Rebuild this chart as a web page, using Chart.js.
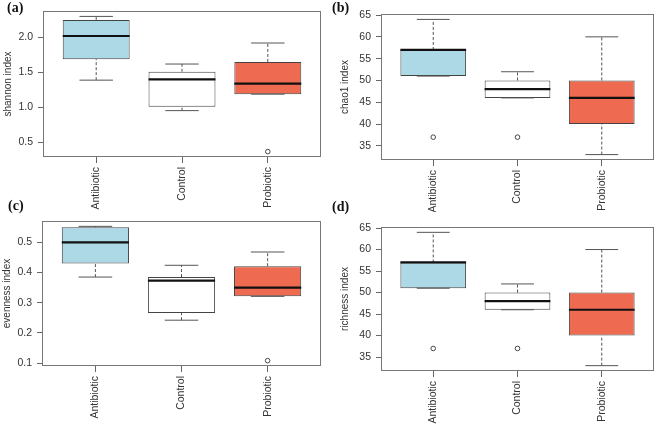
<!DOCTYPE html>
<html><head><meta charset="utf-8">
<script src="https://cdn.jsdelivr.net/npm/chart.js@4"></script>
<style>
html,body{margin:0;padding:0;background:#fff;}
#wrap{position:relative;width:660px;height:424px;overflow:hidden;background:#fff;}
canvas{position:absolute;}
.lbl{position:absolute;font-family:'Liberation Serif','Times New Roman',serif;font-weight:bold;font-size:14px;line-height:16px;color:#111;z-index:5;}
</style></head><body>
<div id="wrap">
<canvas id="ca" width="330" height="212" style="left:0;top:0"></canvas>
<canvas id="cb" width="330" height="212" style="left:330px;top:0"></canvas>
<canvas id="cc" width="330" height="212" style="left:0;top:212px"></canvas>
<canvas id="cd" width="330" height="212" style="left:330px;top:212px"></canvas>
<div class="lbl" style="left:7px;top:0px">(a)</div>
<div class="lbl" style="left:332px;top:0px">(b)</div>
<div class="lbl" style="left:8px;top:198px">(c)</div>
<div class="lbl" style="left:332px;top:199px">(d)</div>
</div>
<script>
// ---- data ----
const categories = ['Antibiotic', 'Control', 'Probiotic'];

// (a) shannon index
const shannonTicks = ['0.5', '1.0', '1.5', '2.0'];
const shannonLow = [1.39, 0.955, 1.19];
const shannonQ1 = [1.69, 1.01, 1.19];
const shannonMedian = [2.02, 1.40, 1.34];
const shannonQ3 = [2.25, 1.51, 1.65];
const shannonHigh = [2.30, 1.62, 1.92];
const shannonOutliers = [[], [], [0.37]];

// (b) chao1 index
const chao1Ticks = ['35', '40', '45', '50', '55', '60', '65'];
const chao1Low = [51, 46, 33];
const chao1Q1 = [51, 46, 40];
const chao1Median = [57, 48, 46];
const chao1Q3 = [57, 50, 50];
const chao1High = [64, 52, 60];
const chao1Outliers = [[37], [37], []];

// (c) evenness index
const evennessTicks = ['0.1', '0.2', '0.3', '0.4', '0.5'];
const evennessLow = [0.385, 0.242, 0.321];
const evennessQ1 = [0.43, 0.266, 0.321];
const evennessMedian = [0.50, 0.373, 0.35];
const evennessQ3 = [0.55, 0.385, 0.421];
const evennessHigh = [0.553, 0.424, 0.468];
const evennessOutliers = [[], [], [0.108]];

// (d) richness index
const richnessTicks = ['35', '40', '45', '50', '55', '60', '65'];
const richnessLow = [51, 46, 33];
const richnessQ1 = [51, 46, 40];
const richnessMedian = [57, 48, 46];
const richnessQ3 = [57, 50, 50];
const richnessHigh = [64, 52, 60];
const richnessOutliers = [[37], [37], []];

// ---- styles ----
const boxFill = ['#ADD8E6', '#FFFFFF', '#EE6A50'];
const BOX_W = 0.78;      // box width in category units
const CAP_W = 0.39;      // staple width
const FONT = "'Liberation Sans', Arial, Helvetica, sans-serif";
const TXT = '#333';

const framePlugin = {
  id: 'frame',
  beforeDatasetsDraw(chart) {
    const { ctx, chartArea: a } = chart;
    ctx.save();
    ctx.strokeStyle = '#777';
    ctx.lineWidth = 1;
    ctx.strokeRect(Math.round(a.left) + 0.5, Math.round(a.top) + 0.5,
      Math.round(a.right - a.left) - 1, Math.round(a.bottom - a.top) - 1);
    ctx.restore();
  }
};

function panel(id, title, tickLabels, low, q1, med, q3, high, outliers, area, titlePad) {
  const W = 330, H = 212;
  const all = [].concat(low, high, ...outliers);
  const lo = Math.min(...all), hi = Math.max(...all);
  const ext = (hi - lo) * 0.04;
  const tickVals = tickLabels.map(Number);
  const n = categories.length;
  const hb = BOX_W / 2, hc = CAP_W / 2;

  const boxData = categories.map((c, i) => ({ x: i + 1, y: [q1[i], q3[i]] }));
  const medData = categories.flatMap((c, i) => [
    { x: i + 1 - hb, y: med[i] }, { x: i + 1 + hb, y: med[i] }, { x: i + 1 + hb, y: null }]);
  const whiskData = categories.flatMap((c, i) => [
    { x: i + 1, y: q3[i] }, { x: i + 1, y: high[i] }, { x: i + 1, y: null },
    { x: i + 1, y: low[i] }, { x: i + 1, y: q1[i] }, { x: i + 1, y: null }]);
  const capData = categories.flatMap((c, i) => [
    { x: i + 1 - hc, y: high[i] }, { x: i + 1 + hc, y: high[i] }, { x: i + 1 + hc, y: null },
    { x: i + 1 - hc, y: low[i] }, { x: i + 1 + hc, y: low[i] }, { x: i + 1 + hc, y: null }]);
  const outData = categories.flatMap((c, i) => outliers[i].map(v => ({ x: i + 1, y: v })));

  const lineBase = { type: 'line', pointRadius: 0, pointHoverRadius: 0, fill: false, tension: 0, spanGaps: false };

  new Chart(document.getElementById(id), {
    type: 'bar',
    data: {
      datasets: [
        { type: 'bar', data: boxData, backgroundColor: boxFill, borderColor: '#444', borderWidth: 1,
          borderSkipped: false, categoryPercentage: 1, barPercentage: BOX_W, order: 4 },
        Object.assign({}, lineBase, { data: whiskData, borderColor: '#555', borderWidth: 1, borderDash: [3, 2], order: 3 }),
        Object.assign({}, lineBase, { data: capData, borderColor: '#555', borderWidth: 1, order: 2 }),
        Object.assign({}, lineBase, { data: medData, borderColor: '#111', borderWidth: 2.2, order: 1 }),
        { type: 'scatter', data: outData, pointRadius: 2.3, pointStyle: 'circle', pointBackgroundColor: 'rgba(255,255,255,0)',
          pointBorderColor: '#444', pointBorderWidth: 1, order: 0 }
      ]
    },
    options: {
      responsive: false,
      animation: false,
      events: [],
      layout: { padding: { top: area.top, right: W - area.right, left: 0, bottom: 0 } },
      plugins: { legend: { display: false }, tooltip: { enabled: false } },
      scales: {
        x: {
          type: 'linear', min: 0.5 - 0.04 * n, max: n + 0.5 + 0.04 * n, offset: false,
          grid: { display: true, drawOnChartArea: false, drawTicks: true, tickLength: 6, color: '#666', offset: false },
          border: { display: false },
          ticks: { autoSkip: false, minRotation: 90, maxRotation: 90, padding: 4, color: TXT,
            font: { family: FONT, size: 10.5 }, callback: (v) => categories[v - 1] ?? '' },
          afterBuildTicks: s => { s.ticks = categories.map((c, i) => ({ value: i + 1 })); },
          afterFit: s => { s.height = H - area.bottom; s.paddingLeft = 0; s.paddingRight = 0; }
        },
        y: {
          type: 'linear', min: lo - ext, max: hi + ext, beginAtZero: false,
          grid: { display: true, drawOnChartArea: false, drawTicks: true, tickLength: 5, color: '#666' },
          border: { display: false },
          ticks: { padding: 5, color: TXT, font: { family: FONT, size: 10.5 },
            callback: (v, i) => tickLabels[i] },
          afterBuildTicks: s => { s.ticks = tickVals.map(v => ({ value: v })); },
          title: { display: true, text: title, color: TXT, font: { family: FONT, size: 10 },
            padding: { top: titlePad, bottom: 0 } },
          afterFit: s => { s.width = area.left; s.paddingTop = 0; s.paddingBottom = 0; }
        }
      }
    },
    plugins: [framePlugin]
  });
}

panel('ca', 'shannon index', shannonTicks, shannonLow, shannonQ1, shannonMedian, shannonQ3, shannonHigh, shannonOutliers,
  { left: 43, top: 11, right: 321, bottom: 157 }, 2);
panel('cb', 'chao1 index', chao1Ticks, chao1Low, chao1Q1, chao1Median, chao1Q3, chao1High, chao1Outliers,
  { left: 51, top: 14, right: 324, bottom: 160 }, 9);
panel('cc', 'evenness index', evennessTicks, evennessLow, evennessQ1, evennessMedian, evennessQ3, evennessHigh, evennessOutliers,
  { left: 42, top: 9, right: 321, bottom: 154 }, 1);
panel('cd', 'richness index', richnessTicks, richnessLow, richnessQ1, richnessMedian, richnessQ3, richnessHigh, richnessOutliers,
  { left: 51, top: 15, right: 324, bottom: 159 }, 9);
</script>
</body></html>
